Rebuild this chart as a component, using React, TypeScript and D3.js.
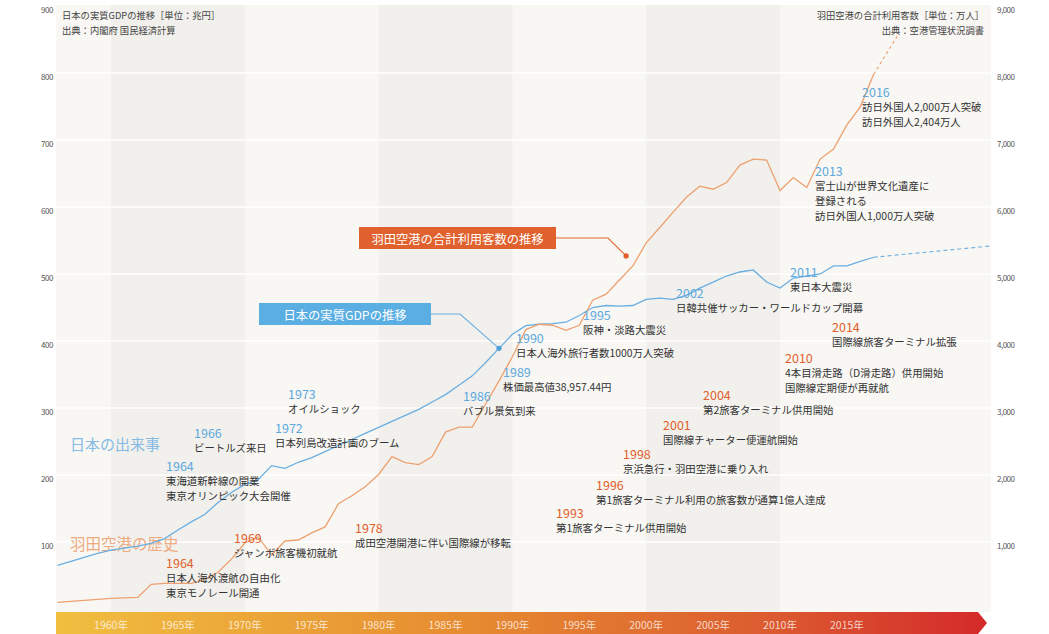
import React from "react";
import * as d3 from "d3";

// ---------- data ----------
const gdpYears = [1956,1957,1958,1959,1960,1961,1962,1963,1964,1965,1966,1967,1968,1969,1970,1971,1972,1973,1974,1975,1976,1977,1978,1979,1980,1981,1982,1983,1984,1985,1986,1987,1988,1989,1990,1991,1992,1993,1994,1995,1996,1997,1998,1999,2000,2001,2002,2003,2004,2005,2006,2007,2008,2009,2010,2011,2012,2013,2014,2015,2016,2017];
const gdpValues = [65,71,77,83,88,91,94,98,105,118,130,141,159,174,186,193,214,210,219,226,235,244,253,262,271,280,289,298,309,320,334,348,368,389,410,423,425,426,428,438,450,453,452,453,462,464,462,468,479,488,497,503,506,488,479,494,497,500,512,512,519,525];
const gdpForecastYears = [2017, 2025.85];
const gdpForecastValues = [525, 542];

const hndYears = [1956,1957,1958,1959,1960,1961,1962,1963,1964,1965,1966,1967,1968,1969,1970,1971,1972,1973,1974,1975,1976,1977,1978,1979,1980,1981,1982,1983,1984,1985,1986,1987,1988,1989,1990,1991,1992,1993,1994,1995,1996,1997,1998,1999,2000,2001,2002,2003,2004,2005,2006,2007,2008,2009,2010,2011,2012,2013,2014,2015,2016,2017];
const hndValues = [98,113,128,143,158,165,173,368,383,383,383,444,549,744,985,1075,805,1015,1030,1135,1225,1570,1690,1825,2008,2275,2185,2155,2275,2640,2715,2715,3060,3405,3765,4170,4250,4235,4160,4235,4610,4700,4910,5120,5465,5690,5920,6145,6310,6265,6365,6625,6715,6700,6245,6440,6290,6715,6865,7225,7495,7980];
const hndForecastYears = [2017, 2018.9];
const hndForecastValues = [7980, 8594];

const leftTicks = [100,200,300,400,500,600,700,800,900];
const rightTicks = [1000,2000,3000,4000,5000,6000,7000,8000,9000];
const yearTicks = [1960,1965,1970,1975,1980,1985,1990,1995,2000,2005,2010,2015];
const bandDecades = [1960,1980,2000];

const blueEventYears = ["1964","1966","1972","1973","1986","1989","1990","1995","2002","2011","2013","2016"];
const blueEventTexts = [
  ["東海道新幹線の開業","東京オリンピック大会開催"],
  ["ビートルズ来日"],
  ["日本列島改造計画のブーム"],
  ["オイルショック"],
  ["バブル景気到来"],
  ["株価最高値38,957.44円"],
  ["日本人海外旅行者数1000万人突破"],
  ["阪神・淡路大震災"],
  ["日韓共催サッカー・ワールドカップ開幕"],
  ["東日本大震災"],
  ["富士山が世界文化遺産に","登録される","訪日外国人1,000万人突破"],
  ["訪日外国人2,000万人突破","訪日外国人2,404万人"],
];
const orangeEventYears = ["1964","1969","1978","1993","1996","1998","2001","2004","2010","2014"];
const orangeEventTexts = [
  ["日本人海外渡航の自由化","東京モノレール開通"],
  ["ジャンボ旅客機初就航"],
  ["成田空港開港に伴い国際線が移転"],
  ["第1旅客ターミナル供用開始"],
  ["第1旅客ターミナル利用の旅客数が通算1億人達成"],
  ["京浜急行・羽田空港に乗り入れ"],
  ["国際線チャーター便運航開始"],
  ["第2旅客ターミナル供用開始"],
  ["4本目滑走路（D滑走路）供用開始","国際線定期便が再就航"],
  ["国際線旅客ターミナル拡張"],
];

// ---------- layout ----------
const W = 1049, H = 634;
const PL = 56, PR = 991, PT = 5, PB = 612;
const blueEventPos = [[166,465],[194,432],[275,427],[288,393],[463,395],[503,371],[516,337],[583,314],[676,292],[790,271],[815,170],[862,91]];
const orangeEventPos = [[166,562],[234,537],[355,527],[556,512],[596,484],[623,453],[663,424],[703,394],[785,357],[832,326]];

const FONT = "'Noto Sans CJK JP', 'Noto Sans', sans-serif";
const BLUE = "#6aaee2";
const BLUE_YEAR = "#5ea9de";
const ORANGE = "#eda070";
const ORANGE_YEAR = "#e2602c";
const TEXT = "#333";

export default function App() {
  const x = d3.scaleLinear().domain([1960, 2010]).range([111, 780]);
  const yL = d3.scaleLinear().domain([0, 900]).range([609, 6]);
  const yR = d3.scaleLinear().domain([0, 9000]).range([609, 6]);

  const gdpLine = d3.line<number>().x((_, i) => x(gdpYears[i])).y((d) => yL(d));
  const gdpFLine = d3.line<number>().x((_, i) => x(gdpForecastYears[i])).y((d) => yL(d));
  const hndLine = d3.line<number>().x((_, i) => x(hndYears[i])).y((d) => yR(d));
  const hndFLine = d3.line<number>().x((_, i) => x(hndForecastYears[i])).y((d) => yR(d));

  const gdpDot = [x(1989), yL(389)];
  const hndDot = [x(1998.5), yR(5270)];

  const renderEvents = (years: string[], texts: string[][], pos: number[][], yc: string) =>
    years.map((yr, i) => (
      <g key={yr + i}>
        <text x={pos[i][0]} y={pos[i][1]} fill={yc} fontSize={12.5} dominantBaseline="central">{yr}</text>
        {texts[i].map((t, j) => (
          <text key={j} x={pos[i][0]} y={pos[i][1] + 15 + j * 15} fill={TEXT} fontSize={10.4} dominantBaseline="central">{t}</text>
        ))}
      </g>
    ));

  return (
    <div style={{ position: "fixed", left: 0, top: 0, width: W, height: H, background: "#fff" }}>
      <svg width={W} height={H} style={{ display: "block", fontFamily: FONT }}>
        <defs>
          <linearGradient id="barGrad" x1="0" x2="1" y1="0" y2="0">
            <stop offset="0" stopColor="#f1bf40" />
            <stop offset="0.45" stopColor="#e68a30" />
            <stop offset="0.75" stopColor="#dc5e30" />
            <stop offset="1" stopColor="#d42a2a" />
          </linearGradient>
        </defs>
        {/* panel */}
        <rect x={PL} y={PT} width={PR - PL} height={PB - PT} fill="#f8f7f3" />
        {bandDecades.map((d) => (
          <rect key={d} x={x(d)} y={PT} width={x(d + 10) - x(d)} height={PB - PT} fill="#f1f0ec" />
        ))}
        {/* gridlines */}
        {leftTicks.slice(0, -1).map((t) => (
          <line key={t} x1={PL} x2={PR} y1={yL(t)} y2={yL(t)} stroke="#fff" strokeWidth={1.6} />
        ))}
        {/* left axis labels */}
        {leftTicks.map((t) => (
          <text key={t} x={53} y={yL(t) + 3} fontSize={8} fill="#555" textAnchor="end" dominantBaseline="central" letterSpacing={-0.4}>{t}</text>
        ))}
        {rightTicks.map((t) => (
          <text key={t} x={997} y={yR(t) + 3} fontSize={8} fill="#555" dominantBaseline="central" letterSpacing={-0.5}>{d3.format(",")(t)}</text>
        ))}
        {/* headers */}
        <text x={62} y={15} fontSize={9.3} fill="#444" dominantBaseline="central">日本の実質GDPの推移［単位：兆円］</text>
        <text x={62} y={30} fontSize={9.3} fill="#444" dominantBaseline="central">出典：内閣府 国民経済計算</text>
        <text x={984} y={15} fontSize={9.3} fill="#444" textAnchor="end" dominantBaseline="central">羽田空港の合計利用客数［単位：万人］</text>
        <text x={984} y={30} fontSize={9.3} fill="#444" textAnchor="end" dominantBaseline="central">出典：空港管理状況調書</text>

        {/* section labels */}
        <text x={70} y={443} fontSize={15} fill="#85bbe4" dominantBaseline="central">日本の出来事</text>
        <text x={70} y={543} fontSize={15.5} fill="#eeaa80" dominantBaseline="central">羽田空港の歴史</text>

        {/* lines */}
        <path d={gdpLine(gdpValues) || ""} fill="none" stroke={BLUE} strokeWidth={1.3} />
        <path d={gdpFLine(gdpForecastValues) || ""} fill="none" stroke={BLUE} strokeWidth={1.1} strokeDasharray="4 3" />
        <path d={hndLine(hndValues) || ""} fill="none" stroke={ORANGE} strokeWidth={1.3} />
        <path d={hndFLine(hndForecastValues) || ""} fill="none" stroke={ORANGE} strokeWidth={1.1} strokeDasharray="3 3" />

        {/* callouts */}
        <polyline points={`431,314 460,314 ${gdpDot[0]},${gdpDot[1]}`} fill="none" stroke={BLUE} strokeWidth={1.1} />
        <circle cx={gdpDot[0]} cy={gdpDot[1]} r={2.6} fill="#4d9fd8" />
        <rect x={259} y={303} width={172} height={22} fill="#5aaee2" />
        <text x={345} y={314.5} fontSize={12.3} fill="#fff" textAnchor="middle" dominantBaseline="central">日本の実質GDPの推移</text>

        <polyline points={`556,238 608,238 ${hndDot[0]},${hndDot[1]}`} fill="none" stroke="#e0682f" strokeWidth={1.1} />
        <circle cx={hndDot[0]} cy={hndDot[1]} r={2.6} fill="#e0602c" />
        <rect x={359} y={227} width={197} height={22} fill="#e0612d" />
        <text x={457.5} y={238.5} fontSize={12.3} fill="#fff" textAnchor="middle" dominantBaseline="central">羽田空港の合計利用客数の推移</text>

        {/* events */}
        {renderEvents(blueEventYears, blueEventTexts, blueEventPos, BLUE_YEAR)}
        {renderEvents(orangeEventYears, orangeEventTexts, orangeEventPos, ORANGE_YEAR)}

        {/* bottom bar */}
        <path d={`M${PL},${PB} L978,${PB} L987,623 L978,634 L${PL},634 Z`} fill="url(#barGrad)" />
        {yearTicks.map((t) => (
          <text key={t} x={x(t)} y={624} fontSize={10.5} fill="#fff" fillOpacity={0.75} textAnchor="middle" dominantBaseline="central">{t}年</text>
        ))}
      </svg>
    </div>
  );
}
